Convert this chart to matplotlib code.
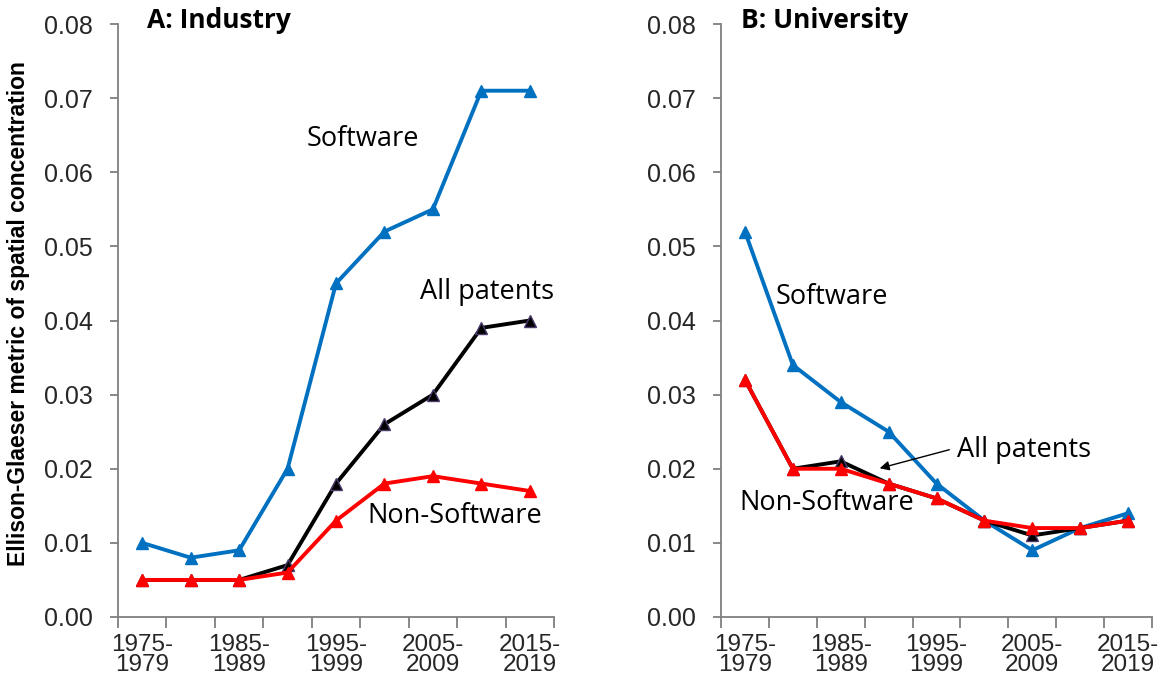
import matplotlib
matplotlib.use("Agg")
import matplotlib.pyplot as plt
import numpy as np

periods = ["1975-\n1979", "1980-\n1984", "1985-\n1989", "1990-\n1994", "1995-\n1999",
           "2000-\n2004", "2005-\n2009", "2010-\n2014", "2015-\n2019"]

ind_software = [0.010, 0.008, 0.009, 0.020, 0.045, 0.052, 0.055, 0.071, 0.071]
ind_all = [0.005, 0.005, 0.005, 0.007, 0.018, 0.026, 0.030, 0.039, 0.040]
ind_nonsoft = [0.005, 0.005, 0.005, 0.006, 0.013, 0.018, 0.019, 0.018, 0.017]

uni_software = [0.052, 0.034, 0.029, 0.025, 0.018, 0.013, 0.009, 0.012, 0.014]
uni_all = [0.032, 0.020, 0.021, 0.018, 0.016, 0.013, 0.011, 0.012, 0.013]
uni_nonsoft = [0.032, 0.020, 0.020, 0.018, 0.016, 0.013, 0.012, 0.012, 0.013]

yticks = [0.00, 0.01, 0.02, 0.03, 0.04, 0.05, 0.06, 0.07, 0.08]

BLUE = "#0070C0"
RED = "#FF0000"
BLACK = "#000000"
AXC = "#7f7f7f"
TXT = "#262626"
ANN_FONT = "Open Sans"

W, H = 1161, 677
fig = plt.figure(figsize=(W / 100, H / 100), dpi=100)

def px(x0, y0, x1, y1):
    return [x0 / W, 1 - y1 / H, (x1 - x0) / W, (y1 - y0) / H]

axA = fig.add_axes(px(118, 24, 554, 617))
axB = fig.add_axes(px(721, 24, 1152, 617))

def style(ax):
    x = np.arange(len(periods))
    ax.set_xlim(-0.5, len(periods) - 0.5)
    ax.set_ylim(0, 0.08)
    for s in ["top", "right"]:
        ax.spines[s].set_visible(False)
    for s in ["left", "bottom"]:
        ax.spines[s].set_color(AXC)
        ax.spines[s].set_linewidth(1.3)
    ax.set_yticks(yticks)
    ax.set_yticklabels([f"{v:.2f}" for v in yticks], fontfamily="Liberation Sans",
                       fontsize=18, color=TXT)
    ax.tick_params(axis="y", direction="out", length=6, width=1.3, color=AXC, pad=12)
    ax.set_xticks(np.arange(-0.5, len(periods), 1.0))
    ax.set_xticklabels([])
    ax.tick_params(axis="x", which="major", direction="out", length=8, width=1.3, color=AXC)
    ax.set_xticks(x[::2], minor=True)
    ax.set_xticklabels([periods[i] for i in x[::2]], minor=True,
                       fontfamily="Liberation Sans", fontsize=17.5, color=TXT,
                       linespacing=0.92)
    ax.tick_params(axis="x", which="minor", length=0, pad=12)
    return x

def series(ax, x, soft, allp, nons):
    ax.plot(x, soft, color=BLUE, lw=2.8, marker="^", ms=9, mfc=BLUE, mec=BLUE, zorder=3,
            clip_on=False)
    ax.plot(x, allp, color=BLACK, lw=2.8, marker="^", ms=9, mfc=BLACK, mec="#4b3a6e",
            zorder=4, clip_on=False)
    ax.plot(x, nons, color=RED, lw=2.8, marker="^", ms=9, mfc=RED, mec=RED, zorder=5,
            clip_on=False)

x = style(axA)
series(axA, x, ind_software, ind_all, ind_nonsoft)
x = style(axB)
series(axB, x, uni_software, uni_all, uni_nonsoft)

axA.set_ylabel("Ellison-Glaeser metric of spatial concentration", fontfamily="Liberation Sans",
               fontweight="bold", fontsize=16.5, color=BLACK)
axA.yaxis.set_label_coords(-0.202, 0.511)

def figtext(xp, yp, s, **kw):
    fig.text(xp / W, 1 - yp / H, s, ha="center", va="center", fontfamily=ANN_FONT, **kw)

figtext(219, 20, "A: Industry", fontsize=19, fontweight="bold")
figtext(825, 20, "B: University", fontsize=19, fontweight="bold")
figtext(363, 139, "Software", fontsize=19.5)
figtext(487, 292, "All patents", fontsize=19.5)
figtext(455, 516, "Non-Software", fontsize=19.5)
figtext(832, 297, "Software", fontsize=19.5)
figtext(1024, 450, "All patents", fontsize=19.5)
figtext(827, 503, "Non-Software", fontsize=19.5)

fig.add_artist(matplotlib.patches.FancyArrowPatch(
    (952 / W, 1 - 449 / H), (877 / W, 1 - 469 / H), transform=fig.transFigure,
    arrowstyle="-|>", mutation_scale=14, color=BLACK, lw=1.0))

fig.savefig("out.png", dpi=100)
